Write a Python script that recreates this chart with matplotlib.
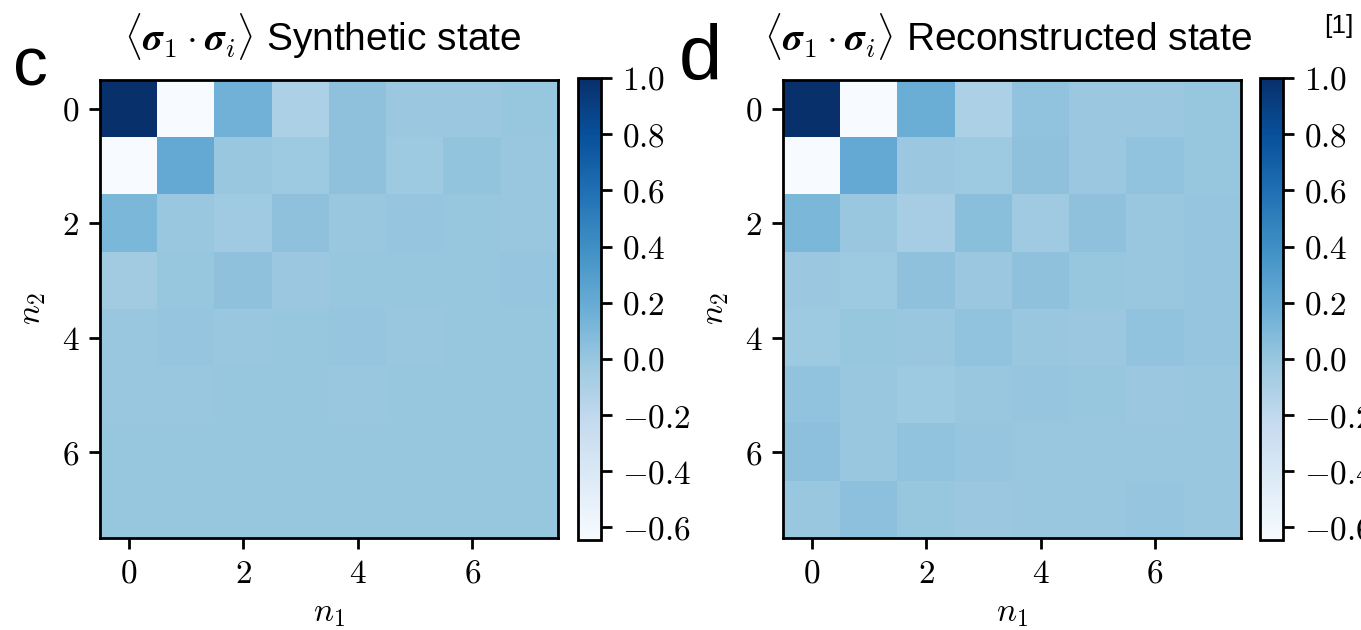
import numpy as np
import matplotlib
matplotlib.use("Agg")
import matplotlib.pyplot as plt

plt.rcParams['mathtext.fontset'] = 'cm'
plt.rcParams['font.family'] = ['Liberation Sans', 'DejaVu Sans']

# correlation <sigma_1 . sigma_i>, rows = n2, cols = n1
synthetic = [
    [1.00, -0.645, 0.15, -0.10, 0.03, -0.02, -0.02, 0.00],
    [-0.645, 0.21, -0.01, -0.03, 0.03, -0.03, 0.015, -0.01],
    [0.11, -0.01, -0.04, 0.03, -0.01, 0.01, 0.00, -0.01],
    [-0.05, 0.00, 0.03, -0.02, 0.00, 0.00, 0.00, 0.005],
    [-0.005, 0.005, -0.01, 0.00, 0.01, -0.01, 0.00, 0.00],
    [-0.005, -0.01, 0.00, 0.00, -0.005, 0.00, 0.00, 0.00],
    [0.00, 0.00, 0.00, 0.00, 0.00, 0.00, 0.00, 0.00],
    [0.00, 0.00, 0.00, 0.00, 0.00, 0.00, 0.00, 0.00],
]

reconstructed = [
    [1.00, -0.645, 0.18, -0.10, 0.02, -0.02, -0.02, 0.00],
    [-0.645, 0.21, -0.02, -0.03, 0.03, -0.02, 0.02, 0.00],
    [0.11, -0.01, -0.07, 0.05, -0.04, 0.03, -0.01, 0.005],
    [-0.02, -0.03, 0.03, -0.02, 0.03, 0.00, -0.01, 0.01],
    [-0.03, 0.00, -0.015, 0.02, -0.01, -0.02, 0.02, 0.005],
    [0.02, -0.005, -0.03, -0.005, 0.005, 0.00, -0.02, -0.01],
    [0.04, -0.01, 0.02, 0.005, -0.01, -0.005, -0.005, -0.005],
    [-0.005, 0.04, 0.00, -0.02, -0.005, -0.01, 0.01, -0.005],
]

grid_ticks = [0, 2, 4, 6]
cbar_ticks = [-0.6, -0.4, -0.2, 0.0, 0.2, 0.4, 0.6, 0.8, 1.0]

panels = [
    ("c", r"$\langle \mathbfit{\sigma}_1 \cdot \mathbfit{\sigma}_i \rangle$ Synthetic state", synthetic),
    ("d", r"$\langle \mathbfit{\sigma}_1 \cdot \mathbfit{\sigma}_i \rangle$ Reconstructed state", reconstructed),
]

W, H = 1361, 630
fig = plt.figure(figsize=(W / 100, H / 100), dpi=100)


def px(x0, y0, x1, y1):
    return [x0 / W, 1 - y1 / H, (x1 - x0) / W, (y1 - y0) / H]


ax_boxes = [px(100, 80, 558, 538), px(783, 80, 1241, 538)]
cb_boxes = [px(578, 78, 601, 540), px(1260, 78, 1283, 540)]
letters = [("c", 13, 86, 50), ("d", 679, 80, 56)]
title_x = [124, 764]

for i, (letter, title, data) in enumerate(panels):
    data = np.array(data)
    ax = fig.add_axes(ax_boxes[i])
    im = ax.imshow(data, cmap="Blues", vmin=-0.645, vmax=1.0,
                   interpolation="nearest", aspect="auto")
    ax.set_xticks(grid_ticks, labels=[f"${t}$" for t in grid_ticks])
    ax.set_yticks(grid_ticks, labels=[f"${t}$" for t in grid_ticks])
    ax.tick_params(labelsize=24, length=8, width=2, pad=7)
    ax.set_xlabel(r"$n_1$", fontsize=24, labelpad=6)
    ax.set_ylabel(r"$n_2$", fontsize=24, labelpad=10)
    for s in ax.spines.values():
        s.set_linewidth(2)

    cax = fig.add_axes(cb_boxes[i])
    cb = fig.colorbar(im, cax=cax)
    cb.set_ticks(cbar_ticks, labels=[f"${t:.1f}$" for t in cbar_ticks])
    cax.tick_params(labelsize=24, length=8, width=2, pad=7)
    cb.outline.set_linewidth(2)

    lt, lx, ly, ls = letters[i]
    fig.text(lx / W, 1 - ly / H, lt, fontsize=ls, va="baseline")
    fig.text(title_x[i] / W, 1 - 50 / H, title, fontsize=28, va="baseline")

fig.text(1324 / W, 1 - 33 / H, "[1]", fontsize=19, va="baseline")

fig.savefig("out.png", dpi=100)
